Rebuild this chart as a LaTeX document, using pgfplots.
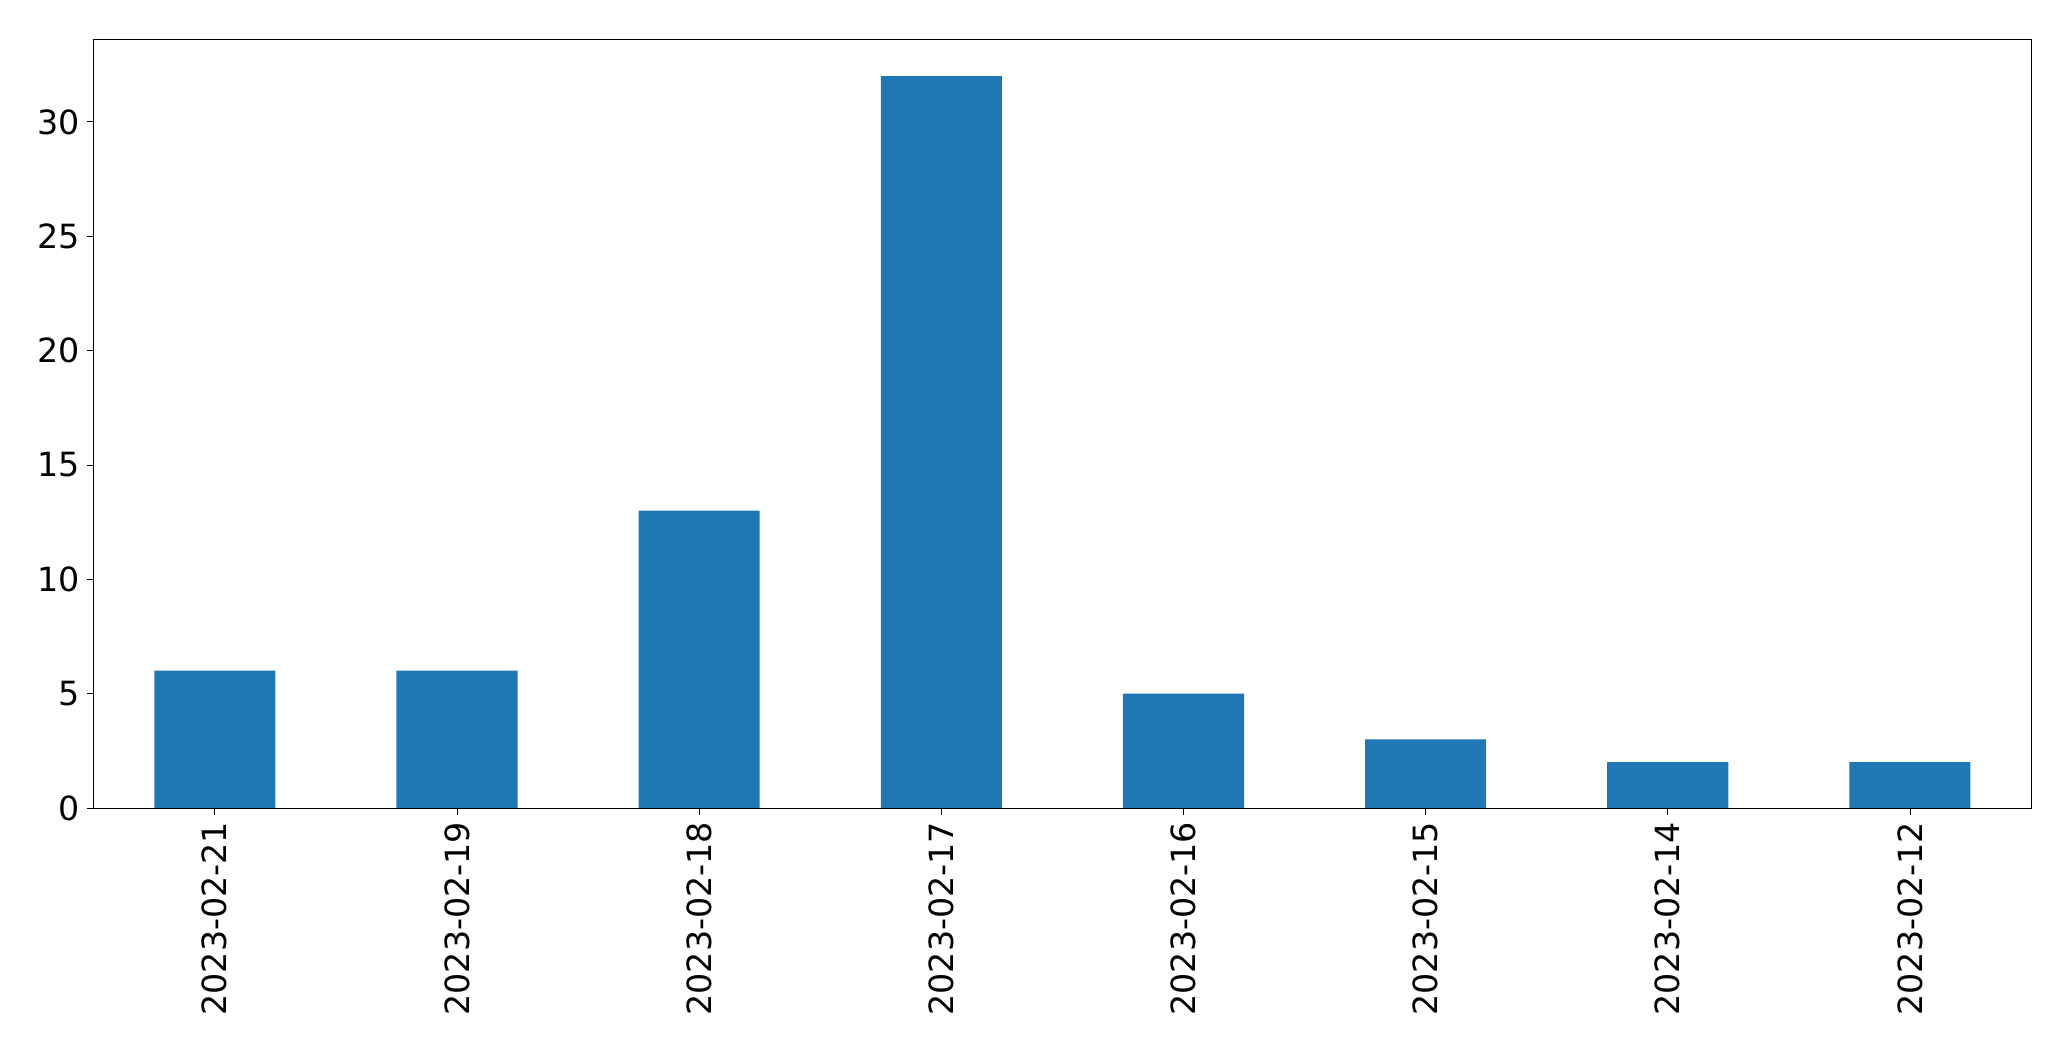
\documentclass[border=0pt]{standalone}
\usepackage{pgfplots}
\pgfplotsset{compat=1.18}
\usepackage{fontspec}
\setmainfont{DejaVu Sans}
\definecolor{mplblue}{HTML}{1F77B4}
\begin{document}
\begin{tikzpicture}
\begin{axis}[
  name=ax,
  scale only axis,
  width=1394.8pt, height=553.2pt,
  xmin=-0.5, xmax=7.5,
  ymin=0, ymax=33.6,
  xtick={0,1,2,3,4,5,6,7},
  xticklabels={2023-02-21,2023-02-19,2023-02-18,2023-02-17,2023-02-16,2023-02-15,2023-02-14,2023-02-12},
  ytick={0,5,10,15,20,25,30},
  tick align=outside,
  tick pos=left,
  major tick length=5pt,
  tick style={black, line width=0.6pt},
  axis line style={line width=0.6pt},
  xticklabel style={rotate=90, anchor=east, inner sep=0pt, outer sep=0pt, xshift=-5pt, font=\fontsize{24}{28}\selectfont},
  yticklabel style={inner sep=0pt, outer sep=0pt, xshift=-5pt, font=\fontsize{24}{28}\selectfont},
  /pgf/number format/assume math mode=true,
  ybar, bar width=0.5,
]
\addplot[fill=mplblue, draw=none] coordinates {(0,6) (1,6) (2,13) (3,32) (4,5) (5,3) (6,2) (7,2)};
\end{axis}
\path ([xshift=-67.5pt,yshift=-182pt]ax.south west) rectangle ([xshift=28.8pt,yshift=28.5pt]ax.north east);
\end{tikzpicture}
\end{document}
